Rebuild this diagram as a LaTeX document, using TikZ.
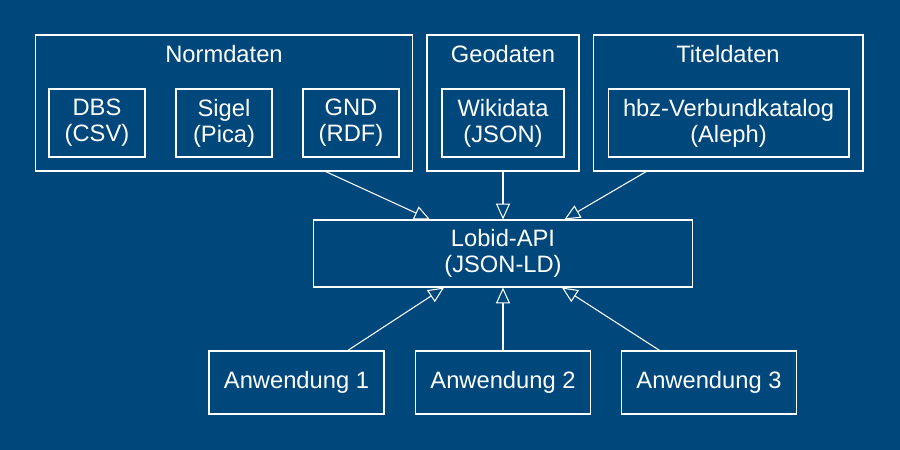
\documentclass[tikz,border=0pt]{standalone}
\usepackage{fontspec}
\setmainfont{Liberation Sans}
\usetikzlibrary{arrows.meta}
\definecolor{bgblue}{RGB}{0,71,123}

\begin{document}
\begin{tikzpicture}[x=0.02cm,y=-0.02cm,line width=0.6pt,
   every node/.style={text=white,font=\fontsize{13.5}{14.8}\selectfont},
   box/.style={draw=white,rectangle,inner sep=0pt,align=center,minimum height=1.36cm},
   cluster/.style={draw=white,rectangle,inner sep=0pt,minimum height=2.72cm},
   link/.style={draw=white,-{Triangle[open,length=9pt,width=8pt]}}]
   \fill[bgblue] (0,0) rectangle (900,450);
   \useasboundingbox (0,0) rectangle (900,450);
   % quellen
   \node (norm) at (224,103) [cluster,minimum width=7.56cm] {};
   \node (geo) at (503,103) [cluster,minimum width=3.04cm] {};
   \node (titel) at (728,103) [cluster,minimum width=5.40cm] {};
   \node (normlabel) at (224,54) {Normdaten};
   \node (geolabel) at (503,54) {Geodaten};
   \node (titellabel) at (728,54) {Titeldaten};
   \node (dbs) at (97,123) [box,minimum width=1.92cm] {DBS\\(CSV)};
   \node (sigel) at (224,123) [box,minimum width=1.92cm] {Sigel\\(Pica)};
   \node (gnd) at (351,123) [box,minimum width=1.92cm] {GND\\(RDF)};
   \node (wikidata) at (503,123) [box,minimum width=2.44cm] {Wikidata\\(JSON)};
   \node (hbz) at (728.5,123) [box,minimum width=4.82cm] {hbz-Verbundkatalog\\(Aleph)};
   % api
   \node (lobid) at (503,253.5) [box,minimum width=7.6cm,minimum height=1.34cm] {Lobid-API\\(JSON-LD)};
   % anwendungen
   \node (app1) at (296.5,382.5) [box,minimum width=3.5cm,minimum height=1.26cm] {Anwendung 1};
   \node (app2) at (503,382.5) [box,minimum width=3.5cm,minimum height=1.26cm] {Anwendung 2};
   \node (app3) at (709,382.5) [box,minimum width=3.5cm,minimum height=1.26cm] {Anwendung 3};
   \draw[link] (norm.-34) -- (lobid.155);
   \draw[link] (geo.south) -- (lobid.north);
   \draw[link] (titel.-140) -- (lobid.29);
   \draw[link] (app1.32) -- (lobid.210);
   \draw[link] (app2.north) -- (lobid.south);
   \draw[link] (app3.147) -- (lobid.-30);
\end{tikzpicture}
\end{document}
